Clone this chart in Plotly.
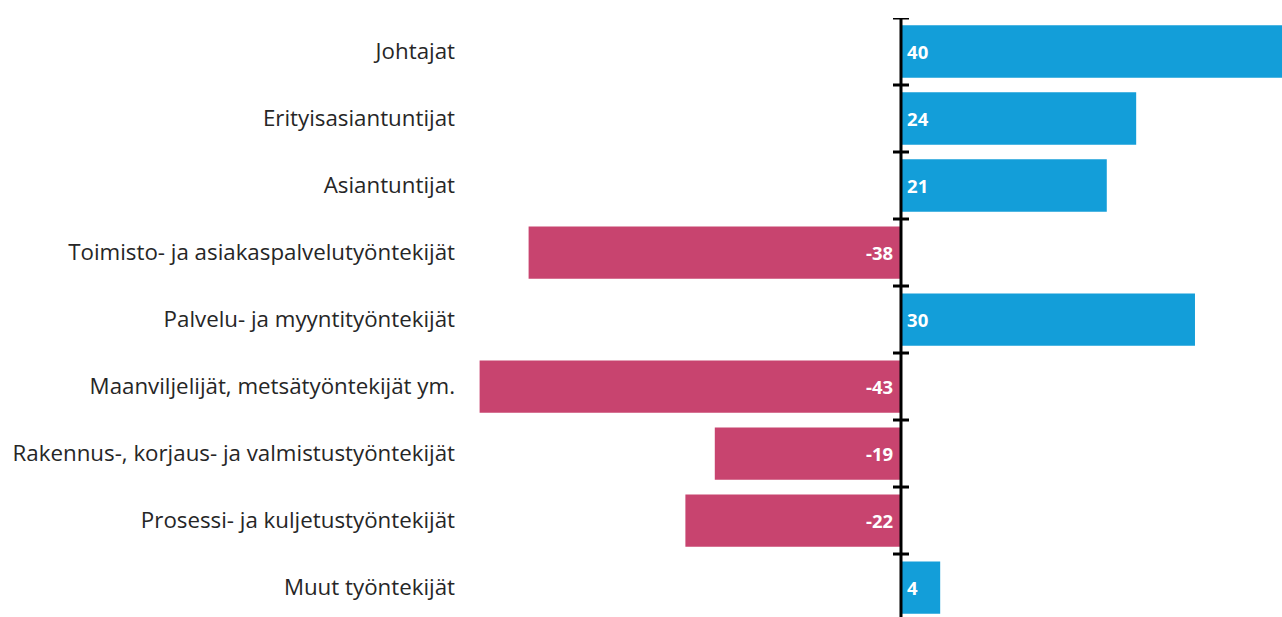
import plotly.graph_objects as go

categories = [
    "Johtajat",
    "Erityisasiantuntijat",
    "Asiantuntijat",
    "Toimisto- ja asiakaspalvelutyöntekijät",
    "Palvelu- ja myyntityöntekijät",
    "Maanviljelijät, metsätyöntekijät ym.",
    "Rakennus-, korjaus- ja valmistustyöntekijät",
    "Prosessi- ja kuljetustyöntekijät",
    "Muut työntekijät",
]
values = [40, 24, 21, -38, 30, -43, -19, -22, 4]

BLUE = "#139ED9"
PINK = "#C8446F"
colors = [BLUE if v >= 0 else PINK for v in values]
labels = [("\u2009" + str(v)) if v >= 0 else (str(v) + "\u00a0") for v in values]

fig = go.Figure()
fig.add_trace(go.Bar(
    y=categories,
    x=values,
    orientation="h",
    marker=dict(color=colors, line=dict(width=0)),
    width=0.78,
    text=labels,
    textposition="inside",
    insidetextanchor="start",
    textfont=dict(family="Open Sans", size=18.5, color="white", weight="bold"),
    cliponaxis=True,
    hoverinfo="skip",
))

n = len(categories)
fig.add_shape(type="line", xref="x", yref="paper", x0=0, x1=0, y0=0, y1=1,
              line=dict(color="black", width=3), layer="above")
for k in range(n + 1):
    fig.add_shape(type="line", xref="x", yref="y", xsizemode="pixel", xanchor=0,
                  x0=-8, x1=8, y0=k - 0.5, y1=k - 0.5,
                  line=dict(color="black", width=3), layer="above")

fig.update_layout(
    width=1282, height=617,
    margin=dict(l=465, r=0, t=18, b=0),
    paper_bgcolor="white", plot_bgcolor="white",
    showlegend=False,
    xaxis=dict(range=[-44.49, 38.88], showgrid=False, zeroline=False,
               showticklabels=False, ticks="", showline=False),
    yaxis=dict(type="category", categoryorder="array", categoryarray=categories,
               range=[8.44, -0.5], showgrid=False, zeroline=False, showline=False,
               ticks="", ticklabelstandoff=9,
               tickfont=dict(family="Open Sans", size=22.3, color="#262626")),
)

fig.write_html("out.html",
               config={"displayModeBar": False},
               post_script="document.body.style.margin='0';document.body.style.overflow='hidden';")
